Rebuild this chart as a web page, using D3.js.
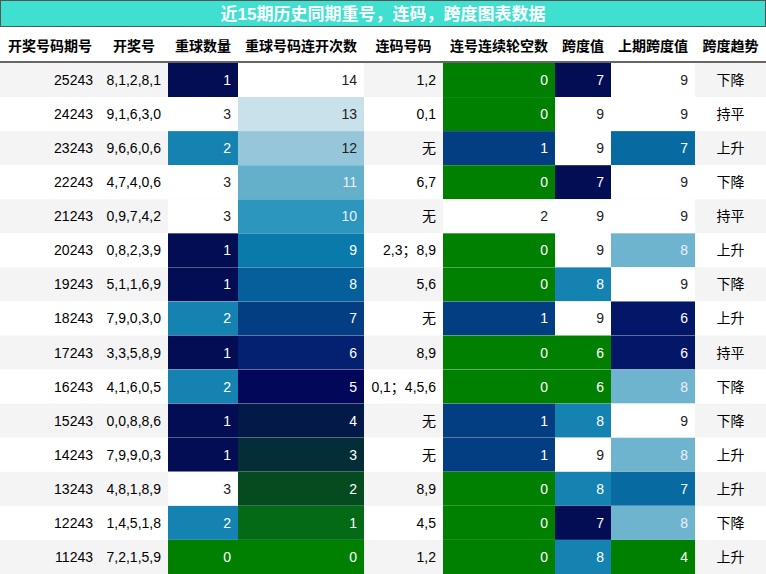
<html>
<head>
<style>
  body { margin: 0; background: #fff; font-family: "Liberation Sans", "Noto Sans CJK SC", sans-serif; }
  .cell text { font-size: 14px; }
</style>
</head>
<body>
<svg id="chart" width="766" height="574"></svg>
<script src="https://cdn.jsdelivr.net/npm/d3@7"></script>
<script>
var headers = ["开奖号码期号", "开奖号", "重球数量", "重球号码连开次数", "连码号码", "连号连续轮空数", "跨度值", "上期跨度值", "跨度趋势"];
var periods = ["25243", "24243", "23243", "22243", "21243", "20243", "19243", "18243", "17243", "16243", "15243", "14243", "13243", "12243", "11243"];
var draws = ["8,1,2,8,1", "9,1,6,3,0", "9,6,6,0,6", "4,7,4,0,6", "0,9,7,4,2", "0,8,2,3,9", "5,1,1,6,9", "7,9,0,3,0", "3,3,5,8,9", "4,1,6,0,5", "0,0,8,8,6", "7,9,9,0,3", "4,8,1,8,9", "1,4,5,1,8", "7,2,1,5,9"];
var repeatCount = [1, 3, 2, 3, 3, 1, 1, 2, 1, 2, 1, 1, 3, 2, 0];
var repeatStreak = [14, 13, 12, 11, 10, 9, 8, 7, 6, 5, 4, 3, 2, 1, 0];
var pairs = ["1,2", "0,1", "无", "6,7", "无", "2,3；8,9", "5,6", "无", "8,9", "0,1；4,5,6", "无", "无", "8,9", "4,5", "1,2"];
var pairGap = [0, 0, 1, 0, 2, 0, 0, 1, 0, 0, 1, 1, 0, 0, 0];
var span = [7, 9, 9, 7, 9, 9, 8, 9, 6, 6, 8, 9, 8, 7, 8];
var prevSpan = [9, 9, 7, 9, 9, 8, 9, 6, 6, 8, 9, 8, 7, 8, 4];
var trend = ["下降", "持平", "上升", "下降", "持平", "上升", "下降", "上升", "持平", "下降", "下降", "上升", "上升", "下降", "上升"];

var colEdges = [0, 100, 168, 238, 364, 443, 555, 611, 695, 766];
var columns = [periods, draws, repeatCount, repeatStreak, pairs, pairGap, span, prevSpan, trend];
var heatCols = {2: true, 3: true, 5: true, 6: true, 7: true};

var stops = ["#008000", "#046a16", "#044c20", "#032e38", "#031a48", "#03075a", "#042070", "#033d82",
             "#055f9a", "#0a7aab", "#2c96bf", "#64b0cb", "#96c6da", "#c8e1ea", "#ffffff"];
var heat = d3.scaleLinear()
  .domain(d3.range(stops.length).map(function(i) { return i / (stops.length - 1); }))
  .range(stops).interpolate(d3.interpolateRgb);

var svg = d3.select("#chart");
var W = 766, titleH = 27, headTop = 28, headH = 34;
var y = d3.scaleBand().domain(d3.range(periods.length)).range([63, 574]);

svg.append("rect").attr("x", 0.5).attr("y", 0.5).attr("width", W - 1).attr("height", titleH - 1)
  .attr("fill", "#40e0d0").attr("stroke", "#555");
svg.append("text").attr("x", W / 2).attr("y", 20).attr("text-anchor", "middle")
  .attr("fill", "#fff").attr("font-weight", "bold").attr("font-size", 17)
  .text("近15期历史同期重号，连码，跨度图表数据");

headers.forEach(function(h, i) {
  svg.append("text").attr("x", (colEdges[i] + colEdges[i + 1]) / 2).attr("y", headTop + 23)
    .attr("text-anchor", "middle").attr("font-weight", "bold").attr("font-size", 14)
    .attr("fill", "#000").text(h);
});
svg.append("line").attr("x1", 0).attr("x2", W).attr("y1", 62).attr("y2", 62)
  .attr("stroke", "#333").attr("stroke-width", 1.5);

var rows = svg.selectAll("g.row").data(periods).join("g").attr("class", "row cell")
  .attr("transform", function(d, r) { return "translate(0," + y(r) + ")"; });
rows.append("rect").attr("width", W).attr("height", y.bandwidth())
  .attr("fill", function(d, r) { return r % 2 === 0 ? "#f4f4f4" : "#ffffff"; });

columns.forEach(function(col, c) {
  var x0 = colEdges[c], x1 = colEdges[c + 1];
  var ext = heatCols[c] ? d3.extent(col) : null;
  rows.each(function(d, r) {
    var g = d3.select(this), v = col[r], txt = "#000";
    if (ext) {
      var t = (v - ext[0]) / (ext[1] - ext[0]);
      g.append("rect").attr("x", x0).attr("width", x1 - x0).attr("height", y.bandwidth()).attr("fill", heat(t));
      txt = t < 0.82 ? "#fff" : "#222";
      if (t < 0.82 && t > 0.7) txt = "#eef";
    }
    var center = c === 8;
    g.append("text").attr("x", center ? (x0 + x1) / 2 : x1 - 7).attr("y", y.bandwidth() / 2 + 5)
      .attr("text-anchor", center ? "middle" : "end").attr("fill", txt).text(v);
  });
});
</script>
</body>
</html>
